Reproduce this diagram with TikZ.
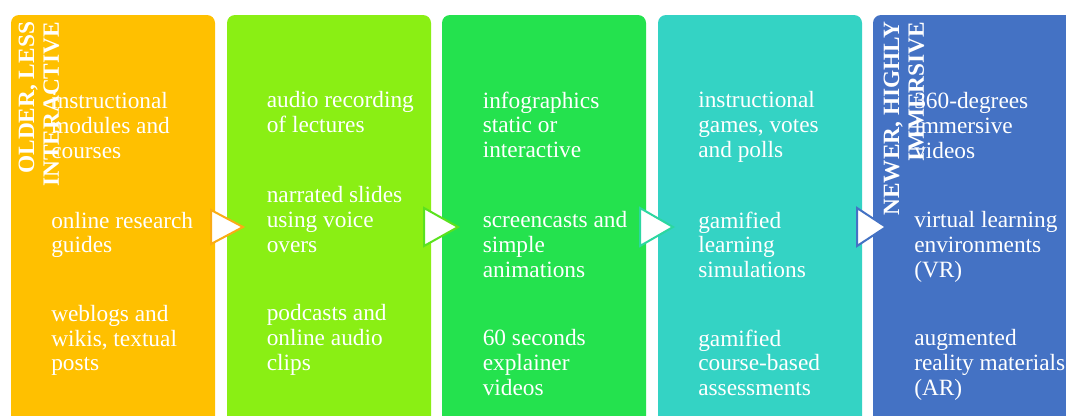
\documentclass[tikz,border=0pt]{standalone}
\usepackage{fontspec}
\setmainfont{Liberation Serif}
\definecolor{gold}{RGB}{255,192,0}
\definecolor{lime}{RGB}{138,239,20}
\definecolor{grass}{RGB}{36,226,78}
\definecolor{teal}{RGB}{52,211,196}
\definecolor{steel}{RGB}{68,114,196}
\definecolor{goldline}{RGB}{250,172,20}
\definecolor{limeline}{RGB}{90,226,30}
\definecolor{tealline}{RGB}{44,215,160}
\newcommand*\itemfont{\fontsize{17.5}{18.4}\selectfont}

\begin{document}
\begin{tikzpicture}[x=0.75pt,y=-0.75pt,
  stage/.style={rounded corners=6pt},
  marker/.style={fill=white,line width=1.5pt,line join=miter},
  item/.style={anchor=north west,inner sep=0,align=left,text=white,
    font=\itemfont,execute at begin node=\strut},
  era/.style={anchor=north east,inner sep=0,align=right,rotate=90,
    text=white,font=\itemfont\bfseries,execute at begin node=\strut}]
\useasboundingbox (0,0) rectangle (1066,415);
\clip (0,0) rectangle (1066,415);
\fill[white] (0,0) rectangle (1066,415);
% five stages
\fill[gold,stage]  (11,15)  rectangle (215,440);
\fill[lime,stage]  (227,15) rectangle (431,440);
\fill[grass,stage] (442,15) rectangle (646,440);
\fill[teal,stage]  (658,15) rectangle (862,440);
\fill[steel,stage] (873,15) rectangle (1077,440);
% markers between stages
\draw[marker,draw=goldline] (211,210) -- (243,227) -- (211,244) -- cycle;
\draw[marker,draw=limeline] (424,208) -- (458,227) -- (424,246) -- cycle;
\draw[marker,draw=tealline] (640,208) -- (673,227) -- (640,246) -- cycle;
\draw[marker,draw=steel]    (857,208) -- (886,227) -- (857,246) -- cycle;
% stage 1
\node[item] (a1) at (51,92.5)  {instructional\\modules and\\courses};
\node[item] (a2) at (51,212)   {online research\\guides};
\node[item] (a3) at (51,305)   {weblogs and\\wikis, textual\\posts};
% stage 2
\node[item] (b1) at (266.5,91.5)  {audio recording\\of lectures};
\node[item] (b2) at (266.5,186.5) {narrated slides\\using voice\\overs};
\node[item] (b3) at (266.5,304.5) {podcasts and\\online audio\\clips};
% stage 3
\node[item] (c1) at (482.5,91.5)  {infographics\\static or\\interactive};
\node[item] (c2) at (482.5,211.5) {screencasts and\\simple\\animations};
\node[item] (c3) at (482.5,329.5) {60 seconds\\explainer\\videos};
% stage 4
\node[item] (d1) at (698,91.5)  {instructional\\games, votes\\and polls};
\node[item] (d2) at (698,211.5) {gamified\\learning\\simulations};
\node[item] (d3) at (698,329.5) {gamified\\course-based\\assessments};
% stage 5
\node[item] (e1) at (914,92.5)  {360-degrees\\immersive\\videos};
\node[item] (e2) at (914,211.5) {virtual learning\\environments\\(VR)};
\node[item] (e3) at (914,329.5) {augmented\\reality materials\\(AR)};
% side headings
\node[era] (older) at (18.5,21.7)  {OLDER, LESS\\INTERACTIVE};
\node[era] (newer) at (883.5,21.7) {NEWER, HIGHLY\\IMMERSIVE};
\end{tikzpicture}
\end{document}
